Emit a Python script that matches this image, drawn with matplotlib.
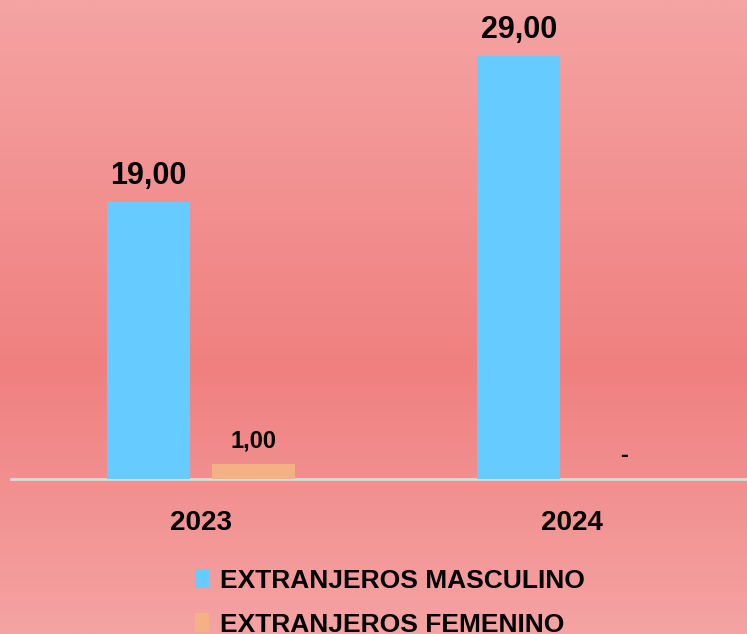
import numpy as np
import matplotlib
matplotlib.use("Agg")
import matplotlib.pyplot as plt
from matplotlib.colors import LinearSegmentedColormap

categories = ["2023", "2024"]
series_names = ["EXTRANJEROS MASCULINO", "EXTRANJEROS FEMENINO"]
masculino = [19, 29]
femenino = [1, 0]
colors = ["#66CCFF", "#F4B183"]

plt.rcParams['font.family'] = ['Liberation Sans', 'DejaVu Sans']

W, H = 747, 634
fig = plt.figure(figsize=(W / 100, H / 100), dpi=100)

# gradient background
bg = fig.add_axes([0, 0, 1, 1], zorder=-10)
cmap = LinearSegmentedColormap.from_list(
    "bg", [(0.0, "#F5A3A3"), (0.58, "#F08080"), (1.0, "#F5A3A3")])
grad = np.linspace(0, 1, 256).reshape(-1, 1)
bg.imshow(grad, cmap=cmap, aspect="auto", extent=[0, 1, 0, 1], origin="upper")
bg.set_axis_off()

base_y = 479
top_px = 12
ax = fig.add_axes([11 / W, (H - base_y) / H, (757 - 11) / W, (base_y - top_px) / H])
ax.patch.set_alpha(0)

x = np.arange(len(categories))
bw = 0.224
off = 0.1424
b1 = ax.bar(x - off, masculino, bw, color=colors[0], label=series_names[0], zorder=3)
b2 = ax.bar(x + off, femenino, bw, color=colors[1], label=series_names[1], zorder=3)

def fmt(v):
    return "-" if v == 0 else f"{v:.2f}".replace(".", ",")

for rect, v in zip(b1, masculino):
    ax.annotate(fmt(v), (rect.get_x() + rect.get_width() / 2, v),
                xytext=(0, 13), textcoords="offset points", ha="center",
                va="baseline", fontsize=22, fontweight="bold", color="black")
for rect, v in zip(b2, femenino):
    ax.annotate(fmt(v), (rect.get_x() + rect.get_width() / 2, v),
                xytext=(0, 12), textcoords="offset points", ha="center",
                va="baseline", fontsize=17, fontweight="bold", color="black")

ax.set_xlim(-0.513, 1.5)
ax.set_ylim(0, 32)
for s in ["top", "right", "left"]:
    ax.spines[s].set_visible(False)
ax.spines["bottom"].set_color("#DCDCDC")
ax.spines["bottom"].set_linewidth(2)
ax.set_yticks([])
ax.set_xticks(x)
ax.set_xticklabels(categories, fontsize=20, fontweight="bold")
ax.tick_params(axis="x", length=0, pad=22)

leg = fig.legend(handles=[b1, b2], labels=series_names, loc="upper center",
                 bbox_to_anchor=(0.5 + 16 / W, 1 - 545 / H), ncol=1, frameon=False,
                 prop={"size": 19, "weight": "bold"}, handlelength=0.55,
                 handleheight=0.7, handletextpad=0.4, labelspacing=0.75)

fig.savefig("out.png", dpi=100)
